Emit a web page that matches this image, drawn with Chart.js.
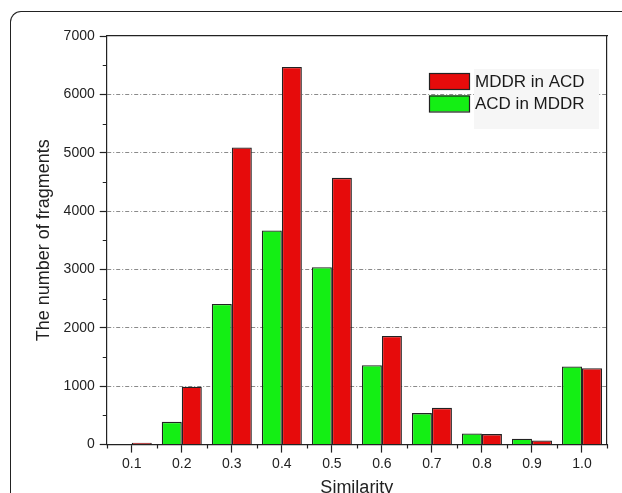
<!DOCTYPE html>
<html>
<head>
<meta charset="utf-8">
<script src="https://cdn.jsdelivr.net/npm/chart.js@4.4.0/dist/chart.umd.min.js"></script>
<style>
    html, body { margin: 0; padding: 0; background: #fff; overflow: hidden; }
    #wrap { position: absolute; left: 0; top: 0; width: 622px; height: 501px; }
    #frame {
        position: absolute; left: 10px; top: 11px; width: 640px; height: 520px;
        border-left: 1.5px solid #222; border-top: 1.5px solid #222;
        border-top-left-radius: 11px;
    }
</style>
</head>
<body>
<div id="frame"></div>
<div id="wrap"><canvas id="similarity"></canvas></div>
<script>
const categories = ['0.1', '0.2', '0.3', '0.4', '0.5', '0.6', '0.7', '0.8', '0.9', '1.0'];
const acdInMddr = [8, 390, 2410, 3670, 3040, 1360, 540, 190, 100, 1340];
const mddrInAcd = [30, 990, 5090, 6470, 4570, 1860, 630, 180, 70, 1310];
const yTicks = [0, 1000, 2000, 3000, 4000, 5000, 6000, 7000];

Chart.defaults.font.family = '"Liberation Sans", Arial, sans-serif';
Chart.defaults.color = '#222';

// legend drawn inside the plot, red entry first like the original figure
const insideLegend = {
    id: 'insideLegend',
    afterDraw(chart) {
        const c = chart.ctx;
        const area = chart.chartArea;
        const items = chart.data.datasets.slice().reverse();
        const x0 = area.right - 178;
        const y0 = area.top + 37;
        c.save();
        c.fillStyle = '#f6f6f6';
        c.fillRect(x0 + 45, y0 - 4, 125, 60);
        c.font = '17px "Liberation Sans", Arial, sans-serif';
        c.textBaseline = 'middle';
        items.forEach((ds, i) => {
            const y = y0 + i * 22.5;
            c.fillStyle = ds.backgroundColor;
            c.fillRect(x0, y, 40, 16);
            c.strokeStyle = '#222';
            c.lineWidth = 1.2;
            c.strokeRect(x0 + 0.5, y + 0.5, 40, 16);
            c.fillStyle = '#1a1a1a';
            c.fillText(ds.label, x0 + 46, y + 9);
        });
        c.restore();
    }
};

// short minor ticks: between categories on x, at the half thousands on y
const minorTicks = {
    id: 'minorTicks',
    afterDraw(chart) {
        const c = chart.ctx;
        const xs = chart.scales.x;
        const ys = chart.scales.y;
        c.save();
        c.strokeStyle = '#222';
        c.lineWidth = 1.2;
        c.beginPath();
        for (let i = 0; i <= categories.length; i++) {
            const px = Math.round(xs.getPixelForValue(i - 0.5)) + 0.5;
            c.moveTo(px, xs.top);
            c.lineTo(px, xs.top + 4);
        }
        for (let v = 500; v < 7000; v += 1000) {
            const py = Math.round(ys.getPixelForValue(v)) + 0.5;
            c.moveTo(ys.right, py);
            c.lineTo(ys.right - 4, py);
        }
        c.stroke();
        c.restore();
    }
};

const ctx = document.getElementById('similarity').getContext('2d');
const myChart = new Chart(ctx, {
    type: 'bar',
    data: {
        labels: categories,
        datasets: [{
            label: 'ACD in MDDR',
            data: acdInMddr,
            backgroundColor: '#14ef14',
            borderColor: '#222',
            borderWidth: 1.3
        }, {
            label: 'MDDR in ACD',
            data: mddrInAcd,
            backgroundColor: '#e60b0b',
            borderColor: '#222',
            borderWidth: 1.3
        }]
    },
    options: {
        responsive: true,
        maintainAspectRatio: false,
        animation: false,
        layout: { padding: { left: 29, right: 15, top: 36, bottom: 0 } },
        datasets: { bar: { barPercentage: 1.0, categoryPercentage: 0.8 } },
        plugins: {
            legend: { display: false },
            tooltip: { enabled: false }
        },
        scales: {
            x: {
                offset: true,
                grid: { offset: false, drawOnChartArea: false, tickLength: 8, tickColor: '#222', tickWidth: 1.2 },
                border: { color: '#222', width: 1.2 },
                ticks: { padding: 3, font: { size: 14 } },
                title: { display: true, text: 'Similarity', font: { size: 18 }, padding: { top: 2, bottom: 2 } }
            },
            y: {
                min: 0,
                max: 7000,
                afterBuildTicks: axis => { axis.ticks = yTicks.map(v => ({ value: v })); },
                grid: {
                    color: c => (c.tick && c.tick.value > 0 && c.tick.value < 7000) ? '#8a8a8a' : 'transparent',
                    lineWidth: 1,
                    tickLength: 7,
                    tickColor: '#222',
                    tickWidth: 1.2
                },
                border: { color: '#222', width: 1.2, dash: [4, 2, 1, 2] },
                ticks: { padding: 5, font: { size: 14 }, callback: v => String(v) },
                title: { display: true, text: 'The number of fragments', font: { size: 18 }, padding: { top: 4, bottom: 4 } }
            },
            x2: {
                axis: 'x',
                type: 'linear',
                position: 'top',
                ticks: { display: false },
                grid: { drawOnChartArea: false, drawTicks: false },
                border: { color: '#222', width: 1.2 }
            },
            y2: {
                axis: 'y',
                type: 'linear',
                position: 'right',
                ticks: { display: false },
                grid: { drawOnChartArea: false, drawTicks: false },
                border: { color: '#222', width: 1.2 }
            }
        }
    },
    plugins: [insideLegend, minorTicks]
});
</script>
</body>
</html>
